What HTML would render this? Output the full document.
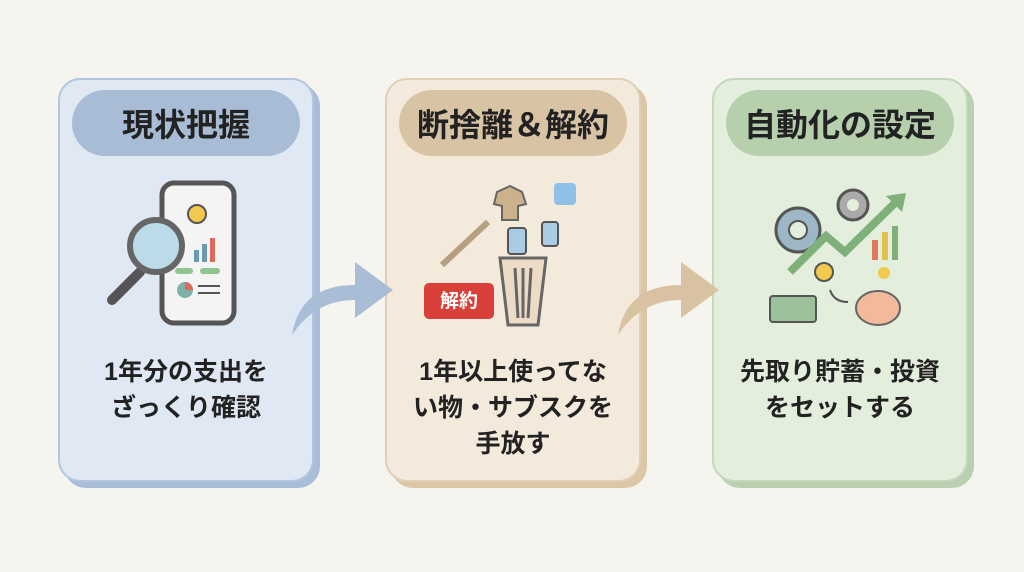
<!DOCTYPE html>
<html><head><meta charset="utf-8"><style>
body{margin:0;width:1024px;height:572px;background:#f6f4ef;overflow:hidden;font-family:"Liberation Sans","Noto Sans CJK JP",sans-serif;position:relative}
.card{position:absolute;top:78px;width:256px;height:404px;border-radius:22px;border:2px solid;box-sizing:border-box}
.pill{position:absolute;left:12px;right:12px;top:10px;height:66px;border-radius:33px;display:flex;align-items:center;justify-content:center;font-size:32px;font-weight:bold;color:#222}
.txt{position:absolute;left:-10px;right:-10px;top:274px;text-align:center;font-size:25px;font-weight:bold;line-height:36px;color:#222}
svg{position:absolute}
</style></head><body>
<div class="card" style="left:58px;background:#dfe8f3;border-color:#b3c5de;box-shadow:6px 6px 0 #a9bdd8">
 <div class="pill" style="background:#a9bcd6">現状把握</div>
 <div class="txt">1年分の支出を<br>ざっくり確認</div>
</div>
<div class="card" style="left:385px;background:#f4eadc;border-color:#e0ceb5;box-shadow:6px 6px 0 #dcc6a6">
 <div class="pill" style="background:#d9c3a5">断捨離＆解約</div>
 <div class="txt">1年以上使ってな<br>い物・サブスクを<br>手放す</div>
</div>
<div class="card" style="left:712px;background:#e3eedc;border-color:#c3d7ba;box-shadow:6px 6px 0 #b9d1b0">
 <div class="pill" style="background:#b6cfad">自動化の設定</div>
 <div class="txt">先取り貯蓄・投資<br>をセットする</div>
</div>
<svg style="left:0;top:0" width="1024" height="572">
 <path d="M292 335 Q300 285 355 285 L355 262 L393 290 L355 318 L355 300 Q315 300 292 335Z" fill="#a9bdd6"/>
 <path d="M618 335 Q626 285 681 285 L681 262 L719 290 L681 318 L681 300 Q641 300 618 335Z" fill="#d8c2a2"/>
 <rect x="162" y="183" width="72" height="140" rx="12" fill="#f4f4f4" stroke="#555" stroke-width="5"/>
 <circle cx="197" cy="214" r="9" fill="#f2c94c" stroke="#555" stroke-width="2"/>
 <rect x="194" y="250" width="5" height="12" fill="#6a9ab0"/><rect x="202" y="244" width="5" height="18" fill="#6a9ab0"/><rect x="210" y="238" width="5" height="24" fill="#e06a5a"/>
 <rect x="175" y="268" width="18" height="6" rx="3" fill="#8fc48f"/><rect x="200" y="268" width="20" height="6" rx="3" fill="#8fc48f"/>
 <circle cx="185" cy="290" r="8" fill="#7fb0a8"/><path d="M185 290 L185 282 A8 8 0 0 1 193 290Z" fill="#e06a5a"/>
 <line x1="198" y1="286" x2="220" y2="286" stroke="#555" stroke-width="2"/><line x1="198" y1="293" x2="220" y2="293" stroke="#555" stroke-width="2"/>
 <line x1="112" y1="300" x2="140" y2="272" stroke="#555" stroke-width="10" stroke-linecap="round"/>
 <circle cx="156" cy="246" r="26" fill="#bcdbe8" stroke="#666" stroke-width="6"/>
 <path d="M500 258 L546 258 L538 325 L508 325Z" fill="#ecdcc6" stroke="#666" stroke-width="3"/>
 <line x1="515" y1="268" x2="518" y2="318" stroke="#666" stroke-width="3"/><line x1="523" y1="268" x2="523" y2="318" stroke="#666" stroke-width="3"/><line x1="531" y1="268" x2="528" y2="318" stroke="#666" stroke-width="3"/>
 <rect x="508" y="228" width="18" height="26" rx="3" fill="#a9cbe3" stroke="#555" stroke-width="2"/>
 <rect x="542" y="222" width="16" height="24" rx="3" fill="#a9cbe3" stroke="#555" stroke-width="2"/>
 <path d="M497 192 L510 186 L522 192 L526 204 L518 206 L518 220 L502 220 L502 206 L494 204Z" fill="#cdb18b" stroke="#666" stroke-width="2"/>
 <rect x="554" y="183" width="22" height="22" rx="4" fill="#8ec0e8"/>
 <path d="M442 265 L488 222" stroke="#b69e80" stroke-width="6"/>
 <rect x="424" y="283" width="70" height="36" rx="5" fill="#d9403a"/>
 <text x="459" y="307" font-size="19" font-weight="bold" fill="#fff" text-anchor="middle">解約</text>
 <circle cx="798" cy="230" r="22" fill="#9db7c6" stroke="#555" stroke-width="3"/><circle cx="798" cy="230" r="9" fill="#e3eedc" stroke="#555" stroke-width="2"/>
 <circle cx="853" cy="205" r="15" fill="#aaa" stroke="#555" stroke-width="3"/><circle cx="853" cy="205" r="6" fill="#e3eedc"/>
 <path d="M790 272 L826 236 L845 252 L896 202" fill="none" stroke="#7fb07a" stroke-width="8"/>
 <path d="M886 196 L906 193 L902 212Z" fill="#7fb07a"/>
 <rect x="872" y="240" width="6" height="20" fill="#e07a5f"/><rect x="882" y="232" width="6" height="28" fill="#e6c04f"/><rect x="892" y="226" width="6" height="34" fill="#7fb07a"/>
 <circle cx="824" cy="272" r="9" fill="#f2c94c" stroke="#555" stroke-width="2"/>
 <circle cx="884" cy="273" r="6" fill="#f2c94c"/>
 <rect x="770" y="296" width="46" height="26" rx="3" fill="#9cc09c" stroke="#555" stroke-width="2"/>
 <ellipse cx="878" cy="308" rx="22" ry="17" fill="#f2b99a" stroke="#666" stroke-width="2"/>
 <path d="M830 290 Q834 302 848 302" fill="none" stroke="#555" stroke-width="2"/>
</svg>
</body></html>
